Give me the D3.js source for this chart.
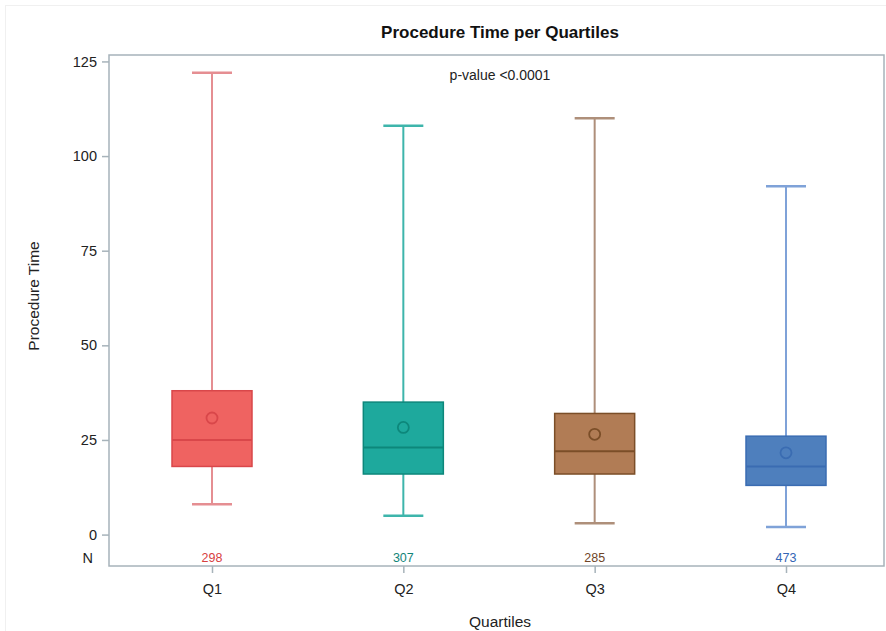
<!DOCTYPE html>
<html>
<head>
<meta charset="utf-8">
<script src="https://cdn.jsdelivr.net/npm/d3@7"></script>
<style>
  body { margin: 0; background: #fff; }
  svg { display: block; font-family: "Liberation Sans", Arial, sans-serif; }
</style>
</head>
<body>
<div id="graph"></div>
<script>
// data
var categories = ["Q1", "Q2", "Q3", "Q4"];
var whisker_low = [8, 5, 3, 2];
var box_low = [18, 16, 16, 13];
var medians = [25, 23, 22, 18];
var box_high = [38, 35, 32, 26];
var whisker_high = [122, 108, 110, 92];
var means = [30.8, 28.3, 26.5, 21.6];
var counts = [298, 307, 285, 473];
var y_ticks = [0, 25, 50, 75, 100, 125];

var fills = ["#ef6361", "#1ea99d", "#b17c55", "#4e7fbd"];
var strokes = ["#d9474a", "#0d877b", "#7b4e28", "#3a6cb2"];
var whisker_colors = ["#e58e92", "#3eb5ab", "#ae8f7a", "#7fa2d8"];
var label_colors = ["#d7403f", "#128579", "#6f4528", "#3366b5"];

var WIDTH = 886, HEIGHT = 631;
var LEFT = 109, RIGHT = 884, TOP = 55, BOTTOM = 566;
var BOX_WIDTH = 80;

var svg = d3.select("#graph")
            .append("svg")
              .attr("width", WIDTH)
              .attr("height", HEIGHT);

// faint outer border
svg.append("rect")
   .attr("x", 5.5).attr("y", 5.5)
   .attr("width", WIDTH).attr("height", HEIGHT)
   .attr("fill", "none")
   .attr("stroke", "#f0f0f0");

let xscale = d3.scalePoint()
               .domain(categories)
               .range([212, 786]);

let yscale = d3.scaleLinear()
               .domain([-8.3, 126.7])
               .range([BOTTOM, TOP]);

// frame
svg.append("rect")
   .attr("x", LEFT).attr("y", TOP)
   .attr("width", RIGHT - LEFT).attr("height", BOTTOM - TOP)
   .attr("fill", "none")
   .attr("stroke", "#a7b3ba")
   .attr("stroke-width", 1.5);

// axes
let y_axis = d3.axisLeft(yscale).tickValues(y_ticks).tickSize(7).tickPadding(5);
let x_axis = d3.axisBottom(xscale).tickSize(7).tickPadding(11);

let yAxisElements = svg.append("g")
                       .attr("transform", `translate(${LEFT}, 0)`)
                       .call(y_axis);
let xAxisElements = svg.append("g")
                       .attr("transform", `translate(0, ${BOTTOM})`)
                       .call(x_axis);

svg.selectAll(".domain").remove();
svg.selectAll(".tick line").attr("stroke", "#a7b3ba").attr("stroke-width", 1.5);
svg.selectAll(".tick text")
   .attr("fill", "#222")
   .style("font-size", "14.5px")
   .style("font-family", "Liberation Sans, Arial, sans-serif");

// "N" row label
svg.append("text")
   .attr("x", LEFT - 16).attr("y", 563)
   .attr("text-anchor", "end")
   .attr("fill", "#222")
   .style("font-size", "14.5px")
   .text("N");

// boxes
let groups = svg.selectAll("g.box")
                .data(categories)
                .enter()
                .append("g")
                  .attr("class", "box");

// whisker stem
groups.append("line")
      .attr("x1", (d) => xscale(d)).attr("x2", (d) => xscale(d))
      .attr("y1", (d, i) => yscale(whisker_low[i]))
      .attr("y2", (d, i) => yscale(whisker_high[i]))
      .attr("stroke", (d, i) => whisker_colors[i])
      .attr("stroke-width", 2);

// whisker caps
[whisker_low, whisker_high].forEach(function (arr) {
  groups.append("line")
        .attr("x1", (d) => xscale(d) - BOX_WIDTH / 4)
        .attr("x2", (d) => xscale(d) + BOX_WIDTH / 4)
        .attr("y1", (d, i) => yscale(arr[i]))
        .attr("y2", (d, i) => yscale(arr[i]))
        .attr("stroke", (d, i) => whisker_colors[i])
        .attr("stroke-width", 2.5);
});

groups.append("rect")
      .attr("x", (d) => xscale(d) - BOX_WIDTH / 2)
      .attr("y", (d, i) => yscale(box_high[i]))
      .attr("width", BOX_WIDTH)
      .attr("height", (d, i) => yscale(box_low[i]) - yscale(box_high[i]))
      .attr("fill", (d, i) => fills[i])
      .attr("stroke", (d, i) => strokes[i])
      .attr("stroke-width", 1.5);

groups.append("line")
      .attr("x1", (d) => xscale(d) - BOX_WIDTH / 2)
      .attr("x2", (d) => xscale(d) + BOX_WIDTH / 2)
      .attr("y1", (d, i) => yscale(medians[i]))
      .attr("y2", (d, i) => yscale(medians[i]))
      .attr("stroke", (d, i) => strokes[i])
      .attr("stroke-width", 2);

groups.append("circle")
      .attr("cx", (d) => xscale(d))
      .attr("cy", (d, i) => yscale(means[i]))
      .attr("r", 5.5)
      .attr("fill", "none")
      .attr("stroke", (d, i) => strokes[i])
      .attr("stroke-width", 1.8);

// counts along the bottom
groups.append("text")
      .attr("x", (d) => xscale(d))
      .attr("y", 562)
      .attr("text-anchor", "middle")
      .attr("fill", (d, i) => label_colors[i])
      .style("font-size", "12.5px")
      .text((d, i) => counts[i]);

// title and labels
svg.append("text")
   .attr("x", 500).attr("y", 38)
   .attr("text-anchor", "middle")
   .style("font-size", "17px")
   .style("font-weight", "bold")
   .attr("fill", "#111")
   .text("Procedure Time per Quartiles");

svg.append("text")
   .attr("x", 500).attr("y", 80)
   .attr("text-anchor", "middle")
   .style("font-size", "14px")
   .attr("fill", "#222")
   .text("p-value <0.0001");

svg.append("text")
   .attr("x", 500).attr("y", 627)
   .attr("text-anchor", "middle")
   .style("font-size", "15.5px")
   .attr("fill", "#222")
   .text("Quartiles");

svg.append("text")
   .attr("transform", "translate(39, 296) rotate(-90)")
   .attr("text-anchor", "middle")
   .style("font-size", "15.5px")
   .attr("fill", "#222")
   .text("Procedure Time");
</script>
</body>
</html>
